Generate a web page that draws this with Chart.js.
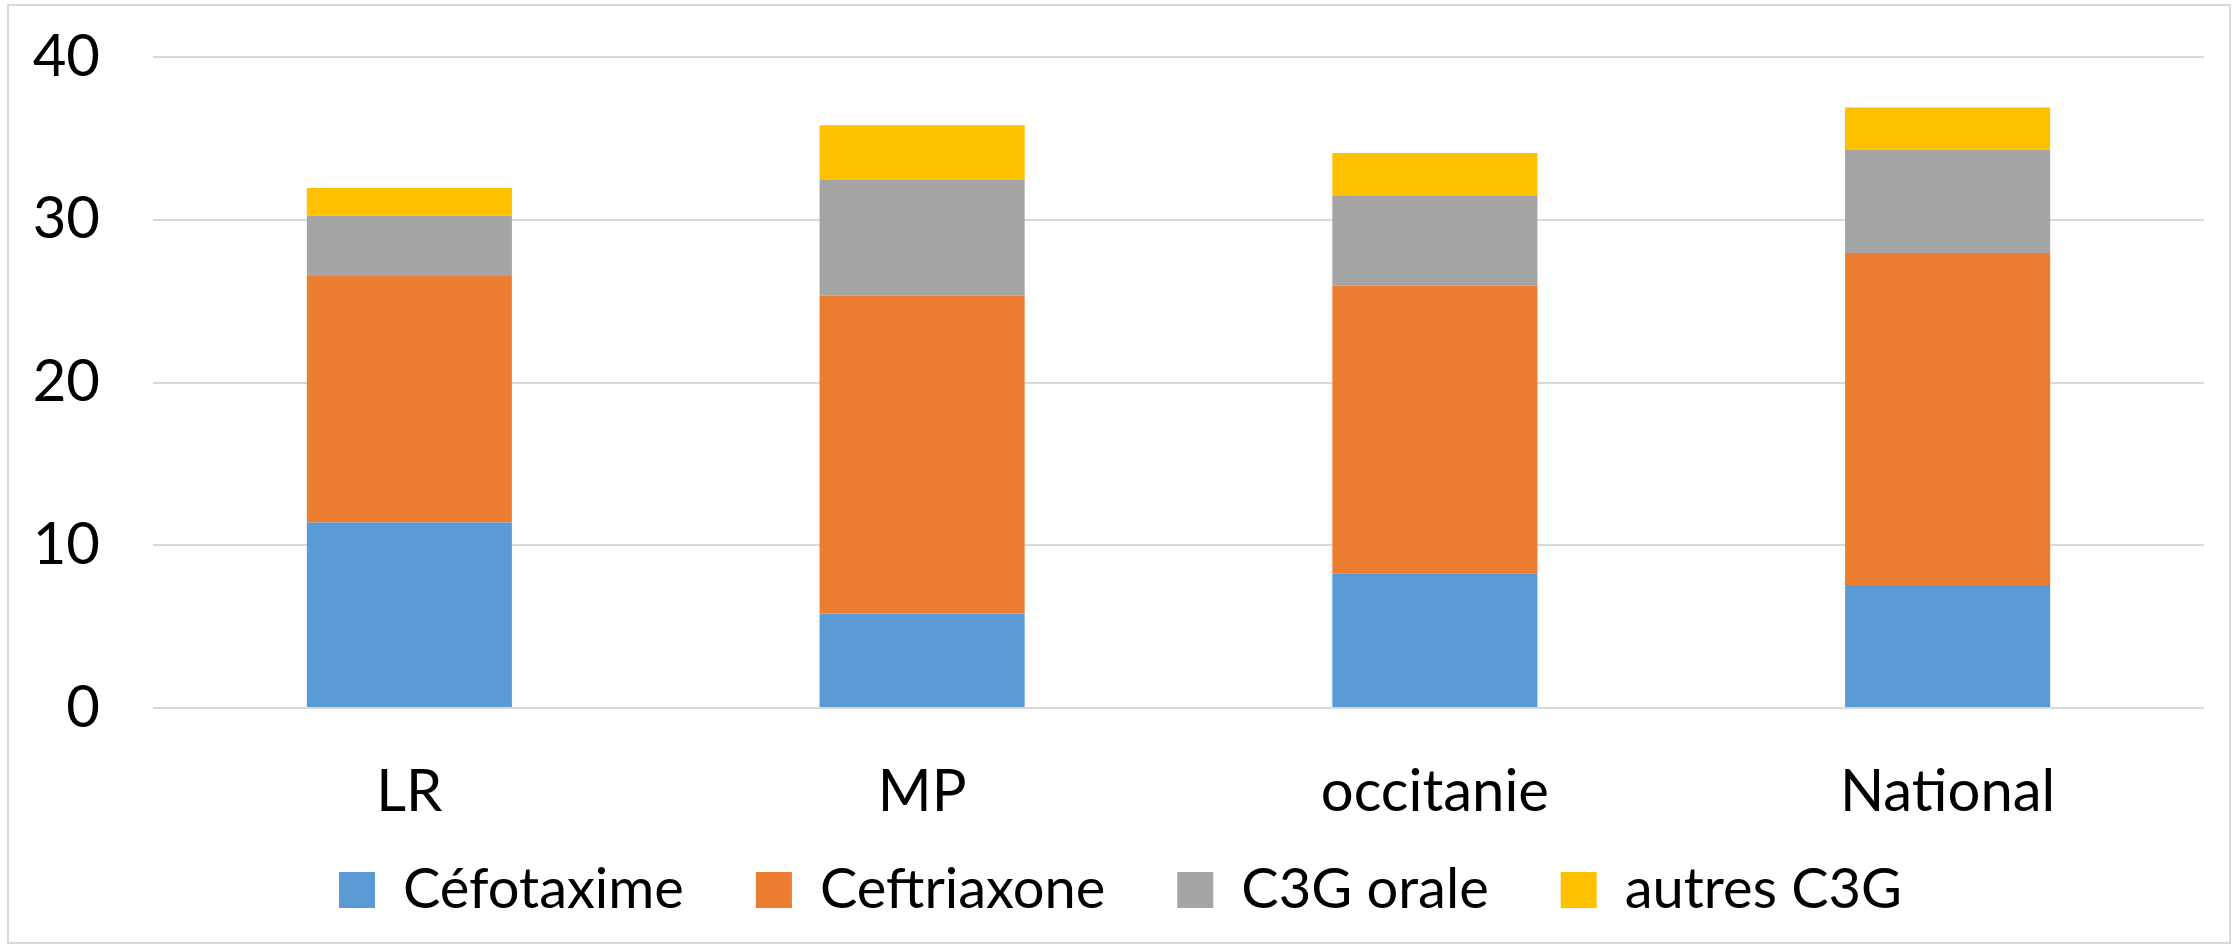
<!DOCTYPE html>
<html>
<head>
<meta charset="utf-8">
<script src="https://cdn.jsdelivr.net/npm/chart.js@4"></script>
<style>
    html, body { margin: 0; padding: 0; background: #fff; }
    #wrap {
        position: absolute;
        left: 7px;
        top: 4px;
        width: 2224px;
        height: 940px;
        border: 2px solid #d9d9d9;
        box-sizing: border-box;
    }
    canvas { display: block; }
</style>
</head>
<body>
<div id="wrap"><canvas id="barChart"></canvas></div>
<script>
// categories and series
const categories = ['LR', 'MP', 'occitanie', 'National'];
const cefotaxime = [11.4, 5.8, 8.25, 7.55];
const ceftriaxone = [15.15, 19.55, 17.7, 20.4];
const c3gOrale = [3.7, 7.1, 5.55, 6.35];
const autresC3G = [1.7, 3.35, 2.6, 2.6];
const yTicks = [0, 10, 20, 30, 40];

const fontFamily = 'Lato, "Open Sans", sans-serif';

// nudge the legend row a little to the right
const legendShift = {
    id: 'legendShift',
    afterLayout(chart) {
        chart.legend.left += 14;
        chart.legend.right += 14;
    }
};

document.addEventListener('DOMContentLoaded', function() {
    const ctx = document.getElementById('barChart').getContext('2d');

    new Chart(ctx, {
        type: 'bar',
        data: {
            labels: categories,
            datasets: [
                { label: 'Céfotaxime', data: cefotaxime, backgroundColor: '#5B9BD5' },
                { label: 'Ceftriaxone', data: ceftriaxone, backgroundColor: '#ED7D31' },
                { label: 'C3G orale', data: c3gOrale, backgroundColor: '#A5A5A5' },
                { label: 'autres C3G', data: autresC3G, backgroundColor: '#FFC000' }
            ]
        },
        plugins: [legendShift],
        options: {
            responsive: true,
            maintainAspectRatio: false,
            animation: false,
            barPercentage: 0.4,
            categoryPercentage: 1,
            layout: {
                padding: { left: 0, right: 25, top: 51, bottom: 14 }
            },
            plugins: {
                tooltip: { enabled: false },
                legend: {
                    position: 'bottom',
                    labels: {
                        color: '#000',
                        boxWidth: 36,
                        boxHeight: 36,
                        padding: 30,
                        font: { family: fontFamily, size: 56 },
                        // widen the gap between entries without growing the legend's height
                        generateLabels: chart => {
                            const items = Chart.defaults.plugins.legend.labels.generateLabels(chart);
                            items.forEach((item, i) => {
                                if (i < items.length - 1) item.text += '\u2002\u2005';
                            });
                            return items;
                        }
                    }
                }
            },
            scales: {
                x: {
                    stacked: true,
                    grid: { display: false, drawTicks: false },
                    border: { display: false },
                    ticks: {
                        color: '#000',
                        padding: 49,
                        font: { family: fontFamily, size: 58 }
                    },
                    afterFit: axis => {
                        axis.height = 124;
                    }
                },
                y: {
                    stacked: true,
                    min: 0,
                    max: 40,
                    afterBuildTicks: axis => {
                        axis.ticks = yTicks.map(v => ({ value: v }));
                    },
                    afterFit: axis => {
                        axis.width = 144;
                        axis.paddingTop = 0;
                        axis.paddingBottom = 0;
                    },
                    grid: { color: '#d9d9d9', lineWidth: 2, drawTicks: false },
                    border: { display: false },
                    ticks: {
                        color: '#000',
                        padding: 53,
                        font: { family: fontFamily, size: 58 }
                    }
                }
            }
        }
    });
});
</script>
</body>
</html>
